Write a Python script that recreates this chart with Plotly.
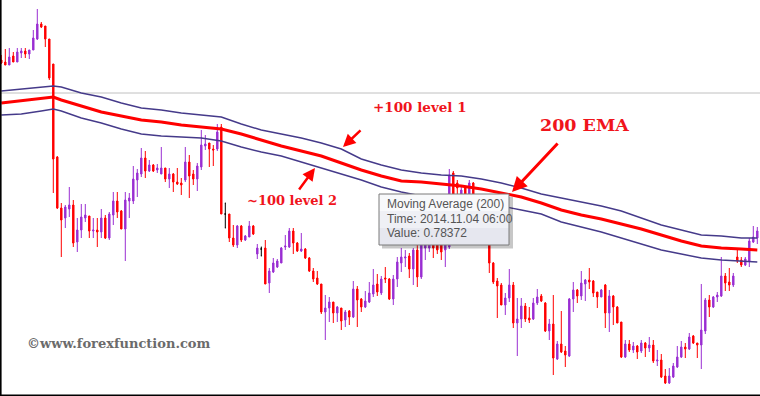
import plotly.graph_objects as go

# ---------------- data (prices) ----------------
bar = list(range(190))

open_ = [
    0.918, 0.916, 0.913, 0.922, 0.916, 0.925, 0.927, 0.924, 0.928, 0.939,
    0.954, 0.952, 0.939, 0.914, 0.821, 0.770, 0.760, 0.769, 0.773, 0.736,
    0.748, 0.760, 0.762, 0.747, 0.748, 0.746, 0.760, 0.740, 0.763, 0.777,
    0.767, 0.749, 0.777, 0.777, 0.798, 0.804, 0.820, 0.807, 0.813, 0.808,
    0.804, 0.810, 0.799, 0.804, 0.796, 0.795, 0.798, 0.816, 0.804, 0.799,
    0.811, 0.832, 0.835, 0.829, 0.829, 0.851, 0.764, 0.764, 0.740, 0.733,
    0.752, 0.738, 0.741, 0.752, 0.724, 0.729, 0.730, 0.695, 0.706, 0.711,
    0.715, 0.731, 0.731, 0.747, 0.735, 0.727, 0.729, 0.720, 0.707, 0.700,
    0.694, 0.666, 0.670, 0.676, 0.665, 0.670, 0.658, 0.667, 0.661, 0.689,
    0.679, 0.671, 0.676, 0.684, 0.694, 0.685, 0.700, 0.699, 0.679, 0.699,
    0.715, 0.720, 0.722, 0.709, 0.728, 0.701, 0.730, 0.730, 0.735, 0.733,
    0.736, 0.728, 0.731, 0.805, 0.795, 0.778, 0.790, 0.773, 0.795, 0.763,
    0.750, 0.758, 0.738, 0.715, 0.697, 0.693, 0.673, 0.680, 0.693, 0.655,
    0.659, 0.672, 0.660, 0.659, 0.675, 0.682, 0.675, 0.647, 0.654, 0.619,
    0.634, 0.627, 0.622, 0.679, 0.688, 0.682, 0.694, 0.698, 0.697, 0.686,
    0.681, 0.693, 0.665, 0.682, 0.671, 0.656, 0.621, 0.634, 0.628, 0.632,
    0.627, 0.635, 0.630, 0.633, 0.617, 0.618, 0.602, 0.595, 0.601, 0.611,
    0.621, 0.631, 0.629, 0.642, 0.635, 0.633, 0.647, 0.678, 0.671, 0.681,
    0.682, 0.702, 0.696, 0.693, 0.721, 0.718, 0.713, 0.717, 0.736, 0.740,
]

high = [
    0.923, 0.929, 0.930, 0.926, 0.930, 0.930, 0.930, 0.928, 0.948, 0.969,
    0.956, 0.952, 0.939, 0.914, 0.822, 0.775, 0.773, 0.791, 0.778, 0.760,
    0.774, 0.774, 0.762, 0.760, 0.760, 0.769, 0.763, 0.766, 0.786, 0.786,
    0.768, 0.786, 0.785, 0.812, 0.809, 0.830, 0.827, 0.818, 0.814, 0.814,
    0.831, 0.810, 0.810, 0.805, 0.810, 0.800, 0.831, 0.823, 0.808, 0.815,
    0.848, 0.843, 0.835, 0.833, 0.854, 0.854, 0.775, 0.764, 0.753, 0.753,
    0.753, 0.743, 0.757, 0.753, 0.734, 0.731, 0.738, 0.710, 0.720, 0.719,
    0.731, 0.743, 0.750, 0.750, 0.736, 0.745, 0.730, 0.721, 0.710, 0.707,
    0.694, 0.683, 0.681, 0.676, 0.672, 0.670, 0.668, 0.668, 0.697, 0.692,
    0.680, 0.687, 0.696, 0.709, 0.704, 0.702, 0.711, 0.700, 0.703, 0.721,
    0.730, 0.728, 0.725, 0.730, 0.733, 0.740, 0.742, 0.738, 0.738, 0.735,
    0.738, 0.740, 0.809, 0.807, 0.798, 0.792, 0.792, 0.798, 0.796, 0.768,
    0.763, 0.763, 0.740, 0.716, 0.700, 0.695, 0.685, 0.709, 0.696, 0.680,
    0.680, 0.675, 0.671, 0.680, 0.689, 0.684, 0.676, 0.659, 0.683, 0.637,
    0.667, 0.632, 0.680, 0.696, 0.689, 0.707, 0.699, 0.710, 0.698, 0.686,
    0.689, 0.694, 0.688, 0.683, 0.672, 0.656, 0.638, 0.638, 0.636, 0.633,
    0.638, 0.636, 0.641, 0.638, 0.628, 0.624, 0.609, 0.610, 0.615, 0.632,
    0.637, 0.635, 0.645, 0.643, 0.635, 0.694, 0.680, 0.683, 0.682, 0.686,
    0.721, 0.705, 0.710, 0.705, 0.728, 0.721, 0.721, 0.740, 0.752, 0.751,
]

low = [
    0.914, 0.913, 0.913, 0.916, 0.916, 0.920, 0.920, 0.919, 0.928, 0.938,
    0.950, 0.931, 0.898, 0.785, 0.769, 0.721, 0.750, 0.761, 0.731, 0.726,
    0.740, 0.756, 0.740, 0.740, 0.731, 0.740, 0.739, 0.738, 0.753, 0.760,
    0.749, 0.717, 0.760, 0.774, 0.781, 0.801, 0.800, 0.806, 0.806, 0.805,
    0.804, 0.796, 0.790, 0.786, 0.793, 0.783, 0.796, 0.780, 0.793, 0.787,
    0.808, 0.828, 0.811, 0.812, 0.827, 0.764, 0.750, 0.736, 0.731, 0.730,
    0.736, 0.737, 0.741, 0.743, 0.719, 0.722, 0.694, 0.685, 0.705, 0.710,
    0.715, 0.728, 0.730, 0.724, 0.726, 0.726, 0.719, 0.706, 0.696, 0.693,
    0.664, 0.638, 0.656, 0.655, 0.656, 0.648, 0.651, 0.653, 0.660, 0.651,
    0.666, 0.670, 0.675, 0.681, 0.682, 0.683, 0.695, 0.678, 0.673, 0.691,
    0.706, 0.711, 0.700, 0.693, 0.691, 0.699, 0.718, 0.726, 0.720, 0.724,
    0.718, 0.711, 0.729, 0.773, 0.778, 0.773, 0.768, 0.768, 0.758, 0.743,
    0.743, 0.733, 0.705, 0.694, 0.660, 0.673, 0.663, 0.676, 0.650, 0.622,
    0.650, 0.656, 0.655, 0.658, 0.673, 0.676, 0.646, 0.638, 0.603, 0.618,
    0.625, 0.611, 0.621, 0.666, 0.675, 0.678, 0.677, 0.689, 0.681, 0.670,
    0.681, 0.650, 0.646, 0.653, 0.655, 0.620, 0.620, 0.626, 0.625, 0.619,
    0.625, 0.621, 0.626, 0.615, 0.612, 0.600, 0.594, 0.594, 0.600, 0.610,
    0.620, 0.620, 0.628, 0.634, 0.620, 0.609, 0.644, 0.661, 0.670, 0.676,
    0.681, 0.687, 0.687, 0.691, 0.715, 0.711, 0.712, 0.711, 0.735, 0.734,
]

close = [
    0.915, 0.913, 0.921, 0.916, 0.926, 0.927, 0.924, 0.928, 0.940, 0.954,
    0.951, 0.939, 0.900, 0.819, 0.770, 0.758, 0.771, 0.773, 0.735, 0.748,
    0.761, 0.763, 0.747, 0.748, 0.746, 0.760, 0.740, 0.764, 0.777, 0.766,
    0.749, 0.778, 0.780, 0.799, 0.805, 0.820, 0.807, 0.813, 0.807, 0.810,
    0.810, 0.799, 0.804, 0.796, 0.794, 0.793, 0.816, 0.802, 0.799, 0.812,
    0.833, 0.834, 0.829, 0.828, 0.846, 0.764, 0.764, 0.740, 0.733, 0.752,
    0.738, 0.742, 0.752, 0.744, 0.730, 0.729, 0.694, 0.707, 0.715, 0.717,
    0.730, 0.732, 0.747, 0.735, 0.727, 0.729, 0.720, 0.707, 0.699, 0.694,
    0.666, 0.670, 0.676, 0.665, 0.671, 0.657, 0.666, 0.661, 0.689, 0.678,
    0.671, 0.677, 0.685, 0.693, 0.686, 0.699, 0.699, 0.679, 0.699, 0.716,
    0.721, 0.721, 0.709, 0.728, 0.701, 0.735, 0.738, 0.734, 0.730, 0.728,
    0.726, 0.736, 0.803, 0.778, 0.790, 0.788, 0.773, 0.795, 0.763, 0.750,
    0.758, 0.738, 0.715, 0.696, 0.692, 0.673, 0.680, 0.693, 0.655, 0.659,
    0.672, 0.659, 0.658, 0.675, 0.681, 0.677, 0.647, 0.654, 0.620, 0.634,
    0.626, 0.623, 0.679, 0.688, 0.682, 0.695, 0.698, 0.696, 0.685, 0.681,
    0.688, 0.665, 0.682, 0.671, 0.655, 0.621, 0.634, 0.628, 0.632, 0.626,
    0.635, 0.630, 0.633, 0.617, 0.618, 0.601, 0.595, 0.602, 0.612, 0.621,
    0.631, 0.629, 0.641, 0.635, 0.633, 0.648, 0.678, 0.671, 0.681, 0.683,
    0.702, 0.695, 0.693, 0.702, 0.717, 0.713, 0.719, 0.737, 0.741, 0.747,
]

# Moving average (200) and its +/-100 envelope, read at these bars
ma_bar = [0, 5, 10, 13, 15, 20, 25, 30, 35, 40, 45, 50, 55, 60, 65, 70, 75, 80, 85, 90,
          95, 100, 105, 110, 115, 120, 125, 130, 135, 140, 145, 150, 155, 160, 165, 170,
          175, 180, 185, 189]
ema200 = [0.8750, 0.8775, 0.8795, 0.8810, 0.8780, 0.8720, 0.8660, 0.8620, 0.8580, 0.8560,
          0.8530, 0.8510, 0.8490, 0.8440, 0.8380, 0.8320, 0.8270, 0.8220, 0.8150, 0.8080,
          0.8020, 0.7970, 0.7960, 0.7940, 0.7920, 0.7890, 0.7850, 0.7810, 0.7750, 0.7680,
          0.7630, 0.7590, 0.7540, 0.7490, 0.7430, 0.7370, 0.7320, 0.7300, 0.7290, 0.7280]
band_upper = [0.887, 0.889, 0.891, 0.892, 0.891, 0.885, 0.881, 0.875, 0.870, 0.868,
              0.865, 0.863, 0.861, 0.854, 0.848, 0.844, 0.840, 0.835, 0.829, 0.819,
              0.813, 0.808, 0.805, 0.803, 0.802, 0.799, 0.795, 0.790, 0.784, 0.780,
              0.776, 0.772, 0.767, 0.760, 0.753, 0.748, 0.743, 0.742, 0.740, 0.740]
band_lower = [0.863, 0.864, 0.867, 0.869, 0.867, 0.860, 0.855, 0.849, 0.844, 0.842,
              0.841, 0.840, 0.837, 0.831, 0.826, 0.822, 0.816, 0.810, 0.804, 0.798,
              0.791, 0.786, 0.782, 0.778, 0.776, 0.774, 0.772, 0.768, 0.764, 0.756,
              0.751, 0.746, 0.740, 0.734, 0.728, 0.724, 0.720, 0.718, 0.717, 0.716]

hline_level = 0.885

label_upper = "+100 level 1"
label_lower = "~100 level 2"
label_ema = "200 EMA"
watermark = "©www.forexfunction.com"
tooltip_lines = ["Moving Average (200)", "Time: 2014.11.04 06:00", "Value: 0.78372"]

# ---------------- styling / layout ----------------
W, H = 760, 396
PURPLE = "#9a2fd2"
RED = "#ff0000"
NAVY = "#453a8a"
ARED = "#f0141c"


def px(x):
    return x / W


def py(y):
    return 1 - y / H


doji = [o == c for o, c in zip(open_, close)]
nb = [i for i, d in zip(bar, doji) if not d]
db = [i for i, d in zip(bar, doji) if d]


def sel(arr, idx):
    return [arr[i] for i in idx]


fig = go.Figure()
fig.add_trace(go.Candlestick(
    x=nb, open=sel(open_, nb), high=sel(high, nb), low=sel(low, nb), close=sel(close, nb),
    increasing=dict(line=dict(color=PURPLE, width=1), fillcolor=PURPLE),
    decreasing=dict(line=dict(color=RED, width=1), fillcolor=RED),
    whiskerwidth=0, hoverinfo="skip"))
fig.add_trace(go.Candlestick(
    x=db, open=sel(open_, db), high=sel(high, db), low=sel(low, db), close=sel(close, db),
    increasing=dict(line=dict(color="#000000", width=1), fillcolor="#000000"),
    decreasing=dict(line=dict(color="#000000", width=1), fillcolor="#000000"),
    whiskerwidth=0.6, hoverinfo="skip"))

fig.add_trace(go.Scatter(x=ma_bar, y=band_upper, mode="lines",
                         line=dict(color=NAVY, width=1.4), hoverinfo="skip"))
fig.add_trace(go.Scatter(x=ma_bar, y=band_lower, mode="lines",
                         line=dict(color=NAVY, width=1.4), hoverinfo="skip"))
fig.add_trace(go.Scatter(x=ma_bar, y=ema200, mode="lines",
                         line=dict(color=RED, width=3), hoverinfo="skip"))

shapes = [
    dict(type="line", xref="paper", yref="y", x0=0, x1=1, y0=hline_level, y1=hline_level,
         line=dict(color="#c0c0c0", width=1), layer="below"),
    dict(type="line", xref="paper", yref="paper", x0=px(0.8), x1=px(0.8), y0=0, y1=1,
         line=dict(color="#000000", width=1.6)),
    dict(type="line", xref="paper", yref="paper", x0=0, x1=1, y0=py(395.2), y1=py(395.2),
         line=dict(color="#000000", width=1.6)),
    # tooltip shadow
    dict(type="rect", xref="paper", yref="paper", x0=px(382), x1=px(513), y0=py(248.5), y1=py(197),
         fillcolor="rgba(0,0,0,0.22)", line=dict(width=0)),
    dict(type="rect", xref="paper", yref="paper", x0=px(379), x1=px(509), y0=py(211), y1=py(194),
         fillcolor="#f8f9fb", line=dict(width=0)),
    dict(type="rect", xref="paper", yref="paper", x0=px(379), x1=px(509), y0=py(228), y1=py(211),
         fillcolor="#eff0f5", line=dict(width=0)),
    dict(type="rect", xref="paper", yref="paper", x0=px(379), x1=px(509), y0=py(245), y1=py(228),
         fillcolor="#e6e7ef", line=dict(width=0)),
    dict(type="rect", xref="paper", yref="paper", x0=px(379), x1=px(509), y0=py(245), y1=py(194),
         fillcolor="rgba(0,0,0,0)", line=dict(color="#7a7a7a", width=1)),
]

annotations = [
    dict(text="<b>" + label_upper + "</b>", x=px(419.5), y=py(107), xref="paper", yref="paper",
         xanchor="center", yanchor="middle", showarrow=False,
         font=dict(family="DejaVu Serif", size=13.5, color=ARED)),
    dict(text="<b>" + label_lower + "</b>", x=px(291.5), y=py(200), xref="paper", yref="paper",
         xanchor="center", yanchor="middle", showarrow=False,
         font=dict(family="DejaVu Serif", size=13, color=ARED)),
    dict(text="<b>" + label_ema + "</b>", x=px(584), y=py(125), xref="paper", yref="paper",
         xanchor="center", yanchor="middle", showarrow=False,
         font=dict(family="DejaVu Serif", size=17.5, color=ARED)),
    dict(text="<b>" + watermark + "</b>", x=px(118.5), y=py(343.5), xref="paper", yref="paper",
         xanchor="center", yanchor="middle", showarrow=False,
         font=dict(family="DejaVu Serif", size=13, color="#6b6b6b")),
    # arrows
    dict(text="", x=px(343), y=py(147), xref="paper", yref="paper", showarrow=True,
         ax=19, ay=-18, arrowhead=2, arrowsize=1, arrowwidth=2.5, arrowcolor=RED),
    dict(text="", x=px(315), y=py(168), xref="paper", yref="paper", showarrow=True,
         ax=-17, ay=23, arrowhead=2, arrowsize=1, arrowwidth=2.5, arrowcolor=RED),
    dict(text="", x=px(512), y=py(192), xref="paper", yref="paper", showarrow=True,
         ax=47, ay=-50, arrowhead=2, arrowsize=1, arrowwidth=3, arrowcolor=RED),
]
for t, yy in zip(tooltip_lines, [204, 218.5, 233]):
    annotations.append(dict(text=t, x=px(385), y=py(yy), xref="paper", yref="paper",
                            xanchor="left", yanchor="middle", showarrow=False,
                            font=dict(family="Liberation Sans", size=12, color="#555555")))

fig.update_layout(
    width=W, height=H, margin=dict(l=0, r=0, t=0, b=0),
    paper_bgcolor="white", plot_bgcolor="white", showlegend=False,
    boxgap=0.5,
    xaxis=dict(visible=False, range=[-0.325, 189.675], rangeslider=dict(visible=False)),
    yaxis=dict(visible=False, range=[0.582, 0.978]),
    shapes=shapes, annotations=annotations,
)

fig.write_html("out.html", config=dict(displayModeBar=False),
               post_script="document.body.style.margin='0';document.body.style.overflow='hidden';")
